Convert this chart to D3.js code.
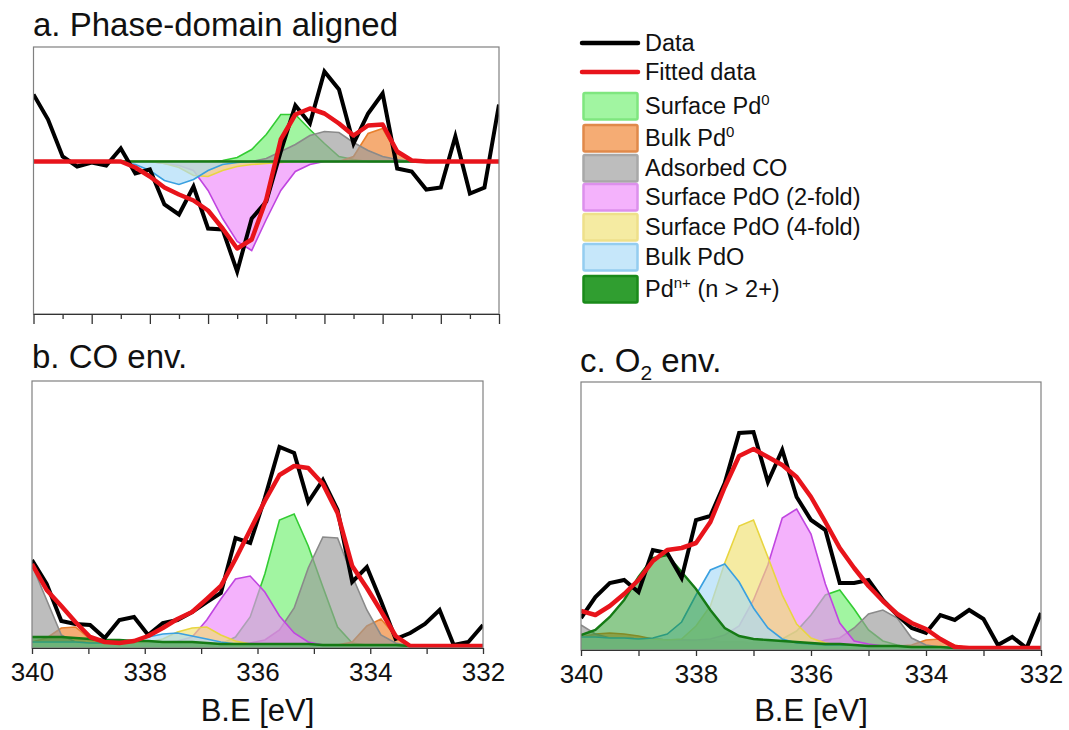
<!DOCTYPE html>
<html><head><meta charset="utf-8">
<script src="https://cdn.jsdelivr.net/npm/d3@7"></script>
<style>
body{margin:0;background:#fff}
svg{display:block}
text{font-family:"Liberation Sans",Arial,Helvetica,sans-serif;fill:#111}
</style>
</head><body>
<svg id="chart" width="1069" height="730"></svg>
<script>
// ---------------- DATA ----------------
// Binding energy grids (eV)
const beA = [340,339.75,339.5,339.25,339,338.75,338.5,338.25,338,337.75,337.5,337.25,337,336.75,336.5,336.25,336,335.75,335.5,335.25,335,334.75,334.5,334.25,334,333.75,333.5,333.25,333,332.75,332.5,332.25,332];
const beB = [340.00,339.74,339.48,339.23,338.97,338.71,338.45,338.19,337.94,337.68,337.42,337.16,336.90,336.65,336.39,336.13,335.87,335.61,335.35,335.10,334.84,334.58,334.32,334.06,333.81,333.55,333.29,333.03,332.77,332.52,332.26,332.00];
const beC = [340,339.75,339.5,339.25,339,338.75,338.5,338.25,338,337.75,337.5,337.25,337,336.75,336.5,336.25,336,335.75,335.5,335.25,335,334.75,334.5,334.25,334,333.75,333.5,333.25,333,332.75,332.5,332.25,332];

// Panel a: phase-domain aligned (arb. units, zero = baseline)
const dataA = [67,42,5,-5,-1,-4,13,-12,-8,-43,-53,-25,-67,-68,-110,-57,-40,10,56,38,90,72,18,48,68,-7,-10,-28,-26,25,-32,-26,57];
const fitA  = [0,0,0,0,0,0,0,-6,-15,-26,-33,-39,-49,-67,-87,-78,-38,22,47,53,48,38,26,36,37,10,1,0,0,0,0,0,0];
const surfPd0A = [0,0,0,0,0,0,0,0,0,0,0,0,0,1,4,12,27,47,47,32,18,5,2,0,0,0,0,0,0,0,0,0,0];
const bulkPd0A = [0,0,0,0,0,0,0,0,0,0,0,0,0,0,0,0,0,0,0,0,0,0,5,28,33,8,2,0,0,0,0,0,0];
const adsCOA   = [0,0,0,0,0,0,0,0,0,0,0,0,0,0,0,0,3,10,17,26,30,29,19,11,5,2,0,0,0,0,0,0,0];
const pdo2A    = [0,0,0,0,0,0,0,0,0,-2,-4,-9,-29,-57,-80,-89,-58,-29,-10,-3,0,0,0,0,0,0,0,0,0,0,0,0,0];
const pdo4A    = [0,0,0,0,0,0,0,0,0,-2,-6,-14,-15,-9,-5,-3,-2,-1,0,0,0,0,0,0,0,0,0,0,0,0,0,0,0];
const bulkPdOA = [0,0,0,0,0,0,-1,-3,-9,-19,-23,-18,-9,-3,-1,0,0,0,0,0,0,0,0,0,0,0,0,0,0,0,0,0,0];
const pdnA     = [0,0,0,0,0,0,0,0,0,0,0,0,0,0,0,0,0,0,0,0,0,0,0,0,0,0,0,0,0,0,0,0,0];

// Panel b: CO environment
const dataB = [88,64,27,24,23,10,28,31,13,25,28,36,46,55,110,105,150,201,195,146,168,138,66,81,47,9,15,24,38,3,6,23];
const fitB  = [84,58,42,26,11,6,5,7,12,20,29,36,49,62,89,118,147,173,182,180,164,135,82,60,37,12,2,2,2,2,2,2];
const bgB   = [6,6,6,6,5,5,5,5,5,5,5,5,5,4,4,4,4,4,4,4,3,3,3,3,3,3,2,2,2,2,2,2];
const surfPd0B = [0,0,0,0,0,0,0,0,0,0,0,0,0,0,7,27,70,124,130,98,58,18,2,0,0,0,0,0,0,0,0,0];
const bulkPd0B = [0,4,14,15,4,0,0,0,0,0,0,0,0,0,0,0,0,0,0,0,0,0,3,19,26,9,0,0,0,0,0,0];
const adsCOB   = [77,42,7,0,0,0,0,0,0,0,0,0,0,0,0,1,4,14,36,76,108,107,69,35,10,2,0,0,0,0,0,0];
const pdo2B    = [0,0,0,0,0,0,0,0,0,1,2,6,23,45,65,68,52,28,11,2,0,0,0,0,0,0,0,0,0,0,0,0];
const pdo4B    = [0,0,0,0,0,0,0,0,1,4,11,15,16,9,3,0,0,0,0,0,0,0,0,0,0,0,0,0,0,0,0,0];
const bulkPdOB = [0,0,0,0,0,0,1,2,6,9,10,7,4,2,0,0,0,0,0,0,0,0,0,0,0,0,0,0,0,0,0,0];
const pdnB     = [5,5,5,4,4,3,3,2,2,1,1,1,0,0,0,0,0,0,0,0,0,0,0,0,0,0,0,0,0,0,0,0];

// Panel c: O2 environment
const dataC = [32,53,67,70,58,100,97,72,130,134,167,217,218,168,200,153,130,120,67,67,70,50,35,22,17,35,30,40,31,5,13,2,37];
const fitC  = [39,35,44,56,70,89,100,102,107,128,163,194,201,193,185,173,153,128,102,82,64,49,36,27,21,11,3,2,2,2,2,2,2];
const bgC   = [13,13,12,12,11,11,10,10,9,9,8,8,7,7,6,6,6,5,5,5,4,4,4,3,3,3,2,2,2,2,2,2,2];
const surfPd0C = [0,0,0,0,0,0,0,0,0,0,0,0,0,2,5,13,29,50,55,36,16,5,1,0,0,0,0,0,0,0,0,0,0];
const bulkPd0C = [0,3,5,4,3,0,0,0,0,0,0,0,0,0,0,0,0,0,0,0,0,0,0,2,7,8,3,0,0,0,0,0,0];
const adsCOC   = [12,3,0,0,0,0,0,0,0,0,0,0,0,0,0,0,0,5,7,17,32,36,28,9,2,0,0,0,0,0,0,0,0];
const pdo2C    = [0,0,0,0,0,0,0,0,1,2,7,16,43,78,126,135,110,61,22,4,2,0,0,0,0,0,0,0,0,0,0,0,0];
const pdo4C    = [0,0,0,0,0,0,0,1,15,35,79,116,123,86,49,20,6,2,0,0,0,0,0,0,0,0,0,0,0,0,0,0,0];
const bulkPdOC = [0,0,0,0,0,1,6,18,46,71,78,60,35,15,5,1,0,0,0,0,0,0,0,0,0,0,0,0,0,0,0,0,0];
const pdnC     = [2,7,21,38,62,81,85,68,52,31,14,6,4,3,3,2,1,1,1,0,0,0,0,0,0,0,0,0,0,0,0,0,0];

const xTicksA = [340,339.5,339,338.5,338,337.5,337,336.5,336,335.5,335,334.5,334,333.5,333,332.5,332];
const xTicksBC = [340,339,338,337,336,335,334,333,332];
const xLabelsBC = [340,338,336,334,332];

// ---------------- STYLE ----------------
const comps = [
  {key:'surfPd0', label:'Surface Pd', sup:'0', fill:'#6ff06f', op:0.65, lop:0.65, stroke:'#33cc33', lstroke:'#7fe67f'},
  {key:'bulkPd0', label:'Bulk Pd', sup:'0', fill:'#f07f2a', op:0.65, lop:0.65, stroke:'#e8802e', lstroke:'#e0894a'},
  {key:'adsCO', label:'Adsorbed CO', fill:'#999999', op:0.65, lop:0.65, stroke:'#8a8a8a', lstroke:'#a8a8a8'},
  {key:'pdo2', label:'Surface PdO (2-fold)', fill:'#ee88fa', op:0.65, lop:0.65, stroke:'#c046e0', lstroke:'#dc90ec'},
  {key:'pdo4', label:'Surface PdO (4-fold)', fill:'#f0e070', op:0.65, lop:0.65, stroke:'#e8d540', lstroke:'#eee08a'},
  {key:'bulkPdO', label:'Bulk PdO', fill:'#a8daf8', op:0.65, lop:0.65, stroke:'#3aa0e0', lstroke:'#94cdf0'},
  {key:'pdn', label:'Pd', sup:'n+', rest:' (n > 2+)', fill:'#1e961e', op:0.5, lop:0.92, stroke:'#157a15', lstroke:'#1a8a1a'}
];

const panels = [
  {be:beA, data:dataA, fit:fitA, bg:null,
   comp:{surfPd0:surfPd0A,bulkPd0:bulkPd0A,adsCO:adsCOA,pdo2:pdo2A,pdo4:pdo4A,bulkPdO:bulkPdOA,pdn:pdnA},
   x0:33.5, x1:499, yTop:47, yBot:314, yDom:[-152.5,114.5], ticks:'a'},
  {be:beB, data:dataB, fit:fitB, bg:bgB,
   comp:{surfPd0:surfPd0B,bulkPd0:bulkPd0B,adsCO:adsCOB,pdo2:pdo2B,pdo4:pdo4B,bulkPdO:bulkPdOB,pdn:pdnB},
   x0:32, x1:483, yTop:381, yBot:648, yDom:[0,267], ticks:'bc'},
  {be:beC, data:dataC, fit:fitC, bg:bgC,
   comp:{surfPd0:surfPd0C,bulkPd0:bulkPd0C,adsCO:adsCOC,pdo2:pdo2C,pdo4:pdo4C,bulkPdO:bulkPdOC,pdn:pdnC},
   x0:581, x1:1041, yTop:382, yBot:650, yDom:[0,268], ticks:'bc'}
];

const svg = d3.select('#chart');

panels.forEach((p, pi) => {
  const g = svg.append('g');
  const x = d3.scaleLinear().domain([340,332]).range([p.x0,p.x1]);
  const y = d3.scaleLinear().domain(p.yDom).range([p.yBot,p.yTop]);
  const cid = 'clip' + pi;
  svg.append('clipPath').attr('id', cid).append('rect')
    .attr('x', p.x0).attr('y', p.yTop).attr('width', p.x1-p.x0).attr('height', p.yBot-p.yTop);
  const pg = g.append('g').attr('clip-path', `url(#${cid})`);

  comps.forEach(c => {
    const vals = p.comp[c.key];
    const top = vals.map((v,i) => (p.bg ? p.bg[i] : 0) + v);
    const area = d3.area().x((d,i)=>x(p.be[i])).y0(y(0)).y1(d=>y(d));
    const line = d3.line().x((d,i)=>x(p.be[i])).y(d=>y(d));
    pg.append('path').datum(top).attr('d', area)
      .attr('fill', c.fill).attr('fill-opacity', c.op).attr('stroke','none');
    pg.append('path').datum(top).attr('d', line)
      .attr('fill','none').attr('stroke', c.stroke)
      .attr('stroke-width', c.key==='pdn' ? 2.4 : 1.6);
  });

  const line = d3.line().x((d,i)=>x(p.be[i])).y(d=>y(d));
  pg.append('path').datum(p.data).attr('d', line)
    .attr('fill','none').attr('stroke','#000').attr('stroke-width',4);
  pg.append('path').datum(p.fit).attr('d', line)
    .attr('fill','none').attr('stroke','#e8141b').attr('stroke-width',4.5)
    .attr('stroke-linejoin','round');

  // frame
  g.append('rect').attr('x',p.x0).attr('y',p.yTop).attr('width',p.x1-p.x0).attr('height',p.yBot-p.yTop)
    .attr('fill','none').attr('stroke','#808080').attr('stroke-width',1.2);

  // axis
  if (p.ticks === 'a') {
    const ax = g.append('g').attr('transform',`translate(0,${p.yBot})`)
      .call(d3.axisBottom(x).tickValues(xTicksA).tickSizeOuter(0).tickFormat(''));
    ax.select('.domain').attr('stroke','#333');
    ax.selectAll('.tick line').attr('stroke','#333').attr('stroke-width',1.3)
      .attr('y2', d => (Math.abs(d - Math.round(d)) < 1e-6) ? 10 : 5);
  } else {
    const ax = g.append('g').attr('transform',`translate(0,${p.yBot})`)
      .call(d3.axisBottom(x).tickValues(xTicksBC).tickSize(6).tickSizeOuter(0).tickPadding(9)
        .tickFormat(d => xLabelsBC.includes(d) ? d : ''));
    ax.select('.domain').attr('stroke','#333');
    ax.selectAll('.tick line').attr('stroke','#333').attr('stroke-width',1.3);
    ax.selectAll('.tick text').style('font-size','26px').style('font-family','"Liberation Sans",Arial,sans-serif').attr('fill','#111');
    g.append('text').attr('x',(p.x0+p.x1)/2).attr('y',721).attr('text-anchor','middle')
      .style('font-size','31px').text('B.E [eV]');
  }
});

// panel titles
svg.append('text').attr('x',33).attr('y',36).style('font-size','33px').text('a. Phase-domain aligned');
svg.append('text').attr('x',32).attr('y',368).style('font-size','33px').text('b. CO env.');
const tc = svg.append('text').attr('x',580).attr('y',372).style('font-size','33px');
tc.append('tspan').text('c. O');
tc.append('tspan').attr('dy',8).style('font-size','21px').text('2');
tc.append('tspan').attr('dy',-8).text(' env.');

// legend
const lg = svg.append('g');
const lx0 = 582, lx1 = 638, tx = 645;
lg.append('line').attr('x1',lx0).attr('x2',lx1).attr('y1',43).attr('y2',43)
  .attr('stroke','#000').attr('stroke-width',4.5).attr('stroke-linecap','round');
lg.append('text').attr('x',tx).attr('y',51).style('font-size','23.5px').text('Data');
lg.append('line').attr('x1',lx0).attr('x2',lx1).attr('y1',72).attr('y2',72)
  .attr('stroke','#e8141b').attr('stroke-width',4.5).attr('stroke-linecap','round');
lg.append('text').attr('x',tx).attr('y',80).style('font-size','23.5px').text('Fitted data');

const boxTops = [93,125,155,184,214,244,276];
comps.forEach((c, k) => {
  const yt = boxTops[k];
  lg.append('rect').attr('x',583.5).attr('y',yt).attr('width',54).attr('height',26.5).attr('rx',1.5)
    .attr('fill',c.fill).attr('fill-opacity',c.lop).attr('stroke',c.lstroke).attr('stroke-width',2.5);
  const t = lg.append('text').attr('x',tx).attr('y',yt+21).style('font-size','23.5px');
  t.append('tspan').text(c.label);
  if (c.sup) {
    t.append('tspan').attr('dy',-9).style('font-size','15px').text(c.sup);
    if (c.rest) t.append('tspan').attr('dy',9).text(c.rest);
  }
});
</script>
</body></html>
